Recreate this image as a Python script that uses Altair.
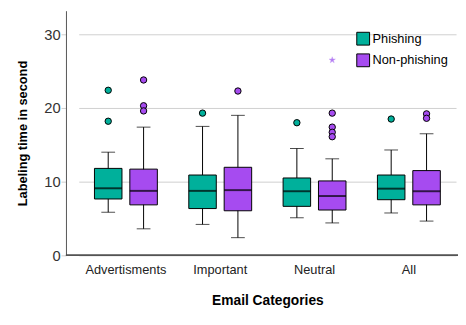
import altair as alt
import pandas as pd

categories = ["Advertisments", "Important", "Neutral", "All"]
groups = ["Phishing", "Non-phishing"]
colors = ["#00B09B", "#A64BF0"]

# five-number summaries per group, in category order
phish_low = [5.85, 4.2, 5.1, 5.75]
phish_q1 = [7.65, 6.35, 6.65, 7.55]
phish_med = [9.1, 8.75, 8.7, 9.05]
phish_q3 = [11.8, 10.9, 10.5, 10.9]
phish_high = [14.0, 17.5, 14.5, 14.3]

non_low = [3.6, 2.4, 4.4, 4.65]
non_q1 = [6.85, 6.05, 6.15, 6.85]
non_med = [8.75, 8.85, 8.05, 8.7]
non_q3 = [11.7, 11.95, 10.1, 11.5]
non_high = [17.4, 19.0, 13.1, 16.5]

out_cat = ["Advertisments", "Advertisments", "Advertisments", "Advertisments", "Advertisments",
           "Important", "Important",
           "Neutral", "Neutral", "Neutral", "Neutral", "Neutral",
           "All", "All", "All"]
out_grp = ["Phishing", "Phishing", "Non-phishing", "Non-phishing", "Non-phishing",
           "Phishing", "Non-phishing",
           "Phishing", "Non-phishing", "Non-phishing", "Non-phishing", "Non-phishing",
           "Phishing", "Non-phishing", "Non-phishing"]
out_val = [22.4, 18.2, 23.8, 20.3, 19.6,
           19.3, 22.3,
           18.0, 19.3, 17.4, 16.7, 16.1,
           18.5, 19.2, 18.6]

ext_cat = ["Neutral"]
ext_grp = ["Non-phishing"]
ext_val = [26.5]

rows = []
for i, c in enumerate(categories):
    rows.append(dict(cat=c, grp="Phishing", low=phish_low[i], q1=phish_q1[i], med=phish_med[i],
                     q3=phish_q3[i], high=phish_high[i]))
    rows.append(dict(cat=c, grp="Non-phishing", low=non_low[i], q1=non_q1[i], med=non_med[i],
                     q3=non_q3[i], high=non_high[i]))
box = pd.DataFrame(rows)
outs = pd.DataFrame(dict(cat=out_cat, grp=out_grp, val=out_val))
ext = pd.DataFrame(dict(cat=ext_cat, grp=ext_grp, val=ext_val))

FONT = "Liberation Sans"

xenc = alt.X("cat:N", sort=categories,
             scale=alt.Scale(domain=categories, range=[13, 397], paddingInner=0, paddingOuter=0),
             axis=alt.Axis(title="Email Categories", labelAngle=0, ticks=False, domain=False,
                           labelFontSize=13, labelColor="#222", labelPadding=8,
                           titleFontSize=14, titleFontWeight="bold", titlePadding=18,
                           titleColor="#000", labelFont=FONT, titleFont=FONT))
xoff = alt.XOffset("grp:N", sort=groups,
                   scale=alt.Scale(domain=groups, paddingInner=0, paddingOuter=0.3333))
yscale = alt.Scale(domain=[0, 33.2], nice=False, zero=True)
yaxis = alt.Axis(title="Labeling time in second", values=[0, 10, 20, 30], grid=True,
                 gridColor="#cfcfcf", gridWidth=1, tickColor="#cfcfcf", tickSize=5,
                 domainColor="#555", labelFontSize=15, labelColor="#333", labelPadding=1,
                 titleFontSize=13, titleFontWeight="bold", titlePadding=14, titleColor="#000",
                 labelFont=FONT, titleFont=FONT)
color = alt.Color("grp:N", sort=groups, scale=alt.Scale(domain=groups, range=colors),
                  legend=alt.Legend(title=None, orient="none", legendX=295, legendY=21,
                                    symbolType="square", symbolSize=170,
                                    symbolStrokeColor="black", symbolStrokeWidth=1,
                                    labelFontSize=13, labelFont=FONT, labelColor="#000",
                                    labelOffset=2, rowPadding=3, padding=0))

base = alt.Chart(box)

whisk = base.mark_rule(color="black", strokeWidth=1).encode(
    x=xenc, xOffset=xoff, y=alt.Y("low:Q", scale=yscale, axis=yaxis), y2="high:Q")
caps_lo = base.mark_tick(color="black", size=14, thickness=1).encode(
    x=xenc, xOffset=xoff, y=alt.Y("low:Q", scale=yscale))
caps_hi = base.mark_tick(color="black", size=14, thickness=1).encode(
    x=xenc, xOffset=xoff, y=alt.Y("high:Q", scale=yscale))
bars = base.mark_bar(width=28, stroke="black", strokeWidth=1).encode(
    x=xenc, xOffset=xoff, y=alt.Y("q1:Q", scale=yscale), y2="q3:Q", color=color)
meds = base.mark_tick(color="black", size=28, thickness=2).encode(
    x=xenc, xOffset=xoff, y=alt.Y("med:Q", scale=yscale))
pts = alt.Chart(outs).mark_circle(size=42, opacity=1, stroke="black", strokeWidth=1,
                                  strokeOpacity=1).encode(
    x=xenc, xOffset=xoff, y=alt.Y("val:Q", scale=yscale),
    fill=alt.Fill("grp:N", sort=groups, scale=alt.Scale(domain=groups, range=colors), legend=None))
star_path = "M0,-1L0.2245,-0.309L0.951,-0.309L0.363,0.118L0.588,0.809L0,0.382L-0.588,0.809L-0.363,0.118L-0.951,-0.309L-0.2245,-0.309Z"
stars = alt.Chart(ext).mark_point(shape=star_path, filled=True, size=45, opacity=1).encode(
    x=xenc, xOffset=xoff, y=alt.Y("val:Q", scale=yscale),
    fill=alt.value("#B27AF2"), stroke=alt.value("#C9A3F7"), strokeWidth=alt.value(0.5))
baseline = alt.Chart(box).mark_rule(color="#555", strokeWidth=1).encode(y=alt.datum(0))

chart = alt.layer(whisk, caps_lo, caps_hi, bars, meds, pts, stars, baseline).properties(
    width=399, height=249,
    autosize=alt.AutoSizeParams(type="none"),
    padding={"left": 59, "top": 0, "right": 0, "bottom": 60},
    background="white",
).configure_view(stroke=None).configure_tick(bandSize=28)

chart.save("out.html", embed_options={"renderer": "svg", "actions": False})
